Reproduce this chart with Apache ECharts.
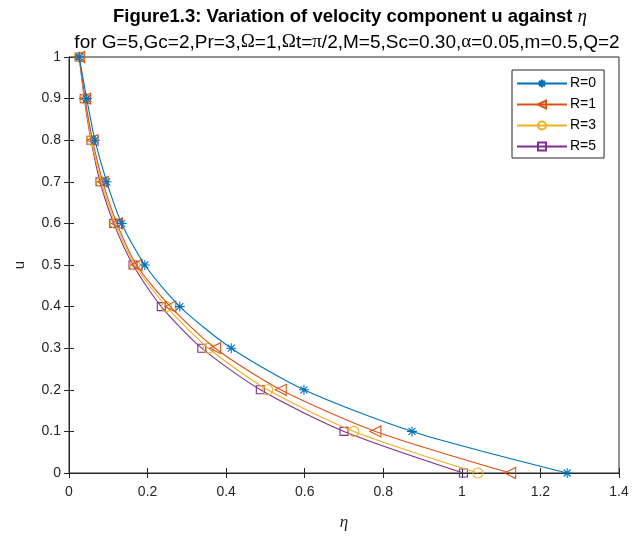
<!DOCTYPE html>
<html>
<head>
<meta charset="utf-8">
<script src="https://cdn.jsdelivr.net/npm/echarts@6/dist/echarts.min.js"></script>
<style>html,body{margin:0;padding:0;background:#fff;}#c{width:637px;height:541px;}</style>
</head>
<body>
<div id="c"></div>
<script>
// u values (y) at which markers are drawn
var uVals = [0, 0.1, 0.2, 0.3, 0.4, 0.5, 0.6, 0.7, 0.8, 0.9, 1.0];
// eta values (x) for each R
var etaR0 = [1.268, 0.873, 0.598, 0.413, 0.282, 0.193, 0.134, 0.096, 0.066, 0.045, 0.026];
var etaR1 = [1.123, 0.780, 0.539, 0.372, 0.258, 0.172, 0.122, 0.086, 0.060, 0.041, 0.026];
var etaR3 = [1.041, 0.725, 0.506, 0.355, 0.248, 0.168, 0.118, 0.082, 0.057, 0.040, 0.026];
var etaR5 = [1.004, 0.700, 0.487, 0.338, 0.235, 0.163, 0.114, 0.079, 0.056, 0.039, 0.026];
var seriesNames = ['R=0', 'R=1', 'R=3', 'R=5'];
var xTicks = [0, 0.2, 0.4, 0.6, 0.8, 1, 1.2, 1.4];
var yTicks = [0, 0.1, 0.2, 0.3, 0.4, 0.5, 0.6, 0.7, 0.8, 0.9, 1];

var colors = ['#0072BD', '#D95319', '#EDB120', '#7E2F8E'];
var symbols = [
  'path://M0,-10L0,10M-10,0L10,0M-7,-7L7,7M-7,7L7,-7',
  'path://M0,5L10,0L10,10Z',
  'circle',
  'rect'
];
var sizes = [10, 11, 10, 8];
var etas = [etaR0, etaR1, etaR3, etaR5];

function pairs(xs) { return xs.map(function (x, i) { return [x, uVals[i]]; }); }

var series = etas.map(function (xs, k) {
  return {
    name: seriesNames[k],
    type: 'line',
    data: pairs(xs),
    smooth: 0.25,
    symbol: symbols[k],
    symbolSize: sizes[k],
    showAllSymbol: true,
    color: colors[k],
    lineStyle: { color: colors[k], width: 1.1 },
    itemStyle: { color: 'none', borderColor: colors[k], borderWidth: 1.1 },
    emphasis: { disabled: true },
    z: 10 - k
  };
});

var tickLabel = { color: '#262626', fontSize: 14, fontFamily: 'Liberation Sans, Arial, sans-serif' };
var axisCommon = {
  axisLine: { show: true, lineStyle: { color: '#262626', width: 1 } },
  axisTick: { show: true, inside: true, length: 5, lineStyle: { color: '#262626' } },
  splitLine: { show: false }
};

var chart = echarts.init(document.getElementById('c'), null, { renderer: 'canvas' });
chart.setOption({
  animation: false,
  backgroundColor: '#fff',
  title: [{
    text: '{b|Figure1.3: Variation of velocity component u against }{e|η}',
    left: 345, top: 2, textAlign: 'center',
    textStyle: { rich: {
      b: { fontSize: 18.5, fontWeight: 'bold', color: '#000', fontFamily: 'Liberation Sans, Arial, sans-serif' },
      e: { fontSize: 19, fontStyle: 'italic', fontWeight: 'normal', color: '#000', fontFamily: 'Liberation Serif, Times New Roman, serif' }
    } }
  }, {
    text: '{n|for G=5,Gc=2,Pr=3,}{g|Ω}{n|=1,}{g|Ω}{n|t=}{g|π}{n|/2,M=5,Sc=0.30,}{g|α}{n|=0.05,m=0.5,Q=2}',
    left: 342, top: 28, textAlign: 'center',
    textStyle: { fontWeight: 'normal', rich: {
      n: { fontSize: 19, fontWeight: 'normal', color: '#000', fontFamily: 'Liberation Sans, Arial, sans-serif' },
      g: { fontSize: 19, fontWeight: 'normal', color: '#000', fontFamily: 'Liberation Serif, Times New Roman, serif' }
    } }
  }],
  legend: {
    orient: 'vertical',
    left: 512, top: 70,
    data: seriesNames,
    itemWidth: 50, itemHeight: 10, itemGap: 6,
    padding: [6, 8, 4, 4],
    borderColor: '#262626', borderWidth: 1,
    backgroundColor: '#fff',
    textStyle: { color: '#000', fontSize: 14, lineHeight: 15, fontFamily: 'Liberation Sans, Arial, sans-serif', padding: [0, 0, 0, -2] }
  },
  grid: { left: 69, right: 18, top: 57, bottom: 68, show: true, borderColor: '#262626', borderWidth: 1 },
  xAxis: [Object.assign({
    type: 'value', min: 0, max: 1.4, interval: 0.2,
    name: 'η', nameLocation: 'middle', nameGap: 41,
    nameTextStyle: { fontSize: 17, fontStyle: 'italic', color: '#262626', fontFamily: 'Liberation Serif, Times New Roman, serif' },
    axisLabel: Object.assign({ margin: 12, formatter: function (v) { return xTicks.indexOf(+v.toFixed(1)) >= 0 ? String(+v.toFixed(1)) : ''; } }, tickLabel)
  }, axisCommon), Object.assign({
    type: 'value', min: 0, max: 1.4, interval: 0.2, position: 'top',
    axisLabel: { show: false }
  }, axisCommon)],
  yAxis: [Object.assign({
    type: 'value', min: 0, max: 1, interval: 0.1,
    name: 'u', nameLocation: 'middle', nameGap: 42, nameRotate: 90,
    nameTextStyle: { fontSize: 15, color: '#262626', fontFamily: 'Liberation Sans, Arial, sans-serif' },
    axisLabel: Object.assign({ margin: 8, formatter: function (v) { return yTicks.indexOf(+v.toFixed(1)) >= 0 ? String(+v.toFixed(1)) : ''; } }, tickLabel)
  }, axisCommon), Object.assign({
    type: 'value', min: 0, max: 1, interval: 0.1, position: 'right',
    axisLabel: { show: false }
  }, axisCommon)],
  series: series
});
</script>
</body>
</html>
